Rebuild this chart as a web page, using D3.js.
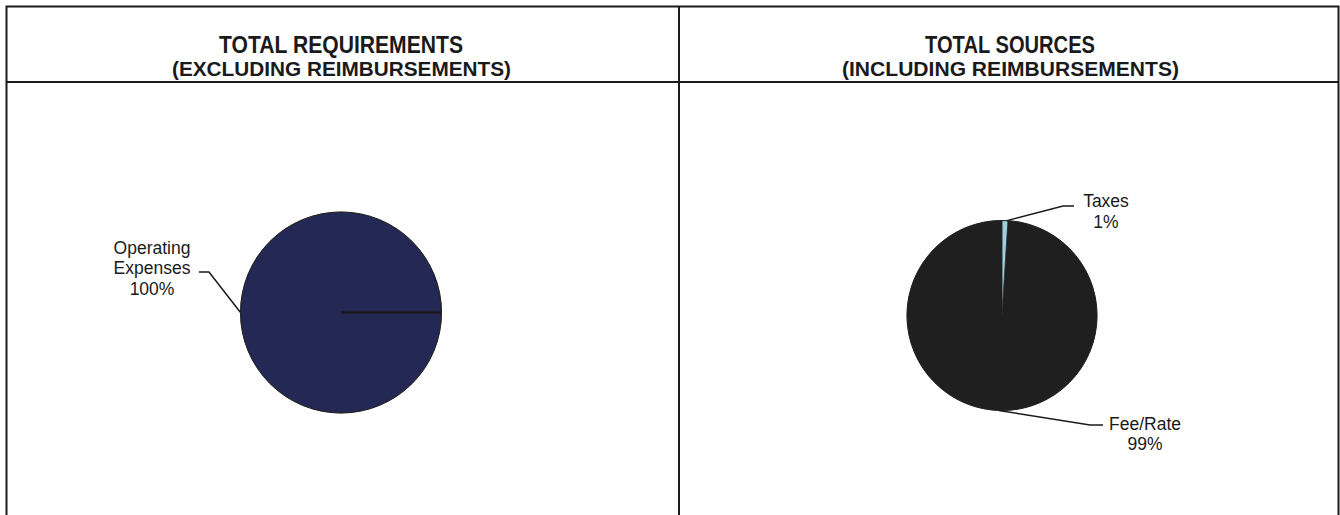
<!DOCTYPE html>
<html><head><meta charset="utf-8">
<script src="https://cdn.jsdelivr.net/npm/d3@7"></script>
<style>
body{margin:0;background:#fff}
svg{display:block}
text{font-family:"Liberation Sans",Arial,Helvetica,sans-serif;fill:#1a1a1a}
</style>
</head><body>
<svg id="chart" width="1340" height="515"></svg>
<script>
// ---- data ----
const titles = ["TOTAL REQUIREMENTS", "TOTAL SOURCES"];
const subtitles = ["(EXCLUDING REIMBURSEMENTS)", "(INCLUDING REIMBURSEMENTS)"];

const reqCategories = ["Operating Expenses"];
const reqValues = [100];
const reqPctLabels = ["100%"];

const srcCategories = ["Taxes", "Fee/Rate"];
const srcValues = [1.0, 99.0];
const srcPctLabels = ["1%", "99%"];

// ---- layout ----
const svg = d3.select("#chart");
const W = 1340, H = 515;
const frame = {x0: 6.5, x1: 1338.5, y0: 6.5, mid: 679, header: 82};
const lineColor = "#1a1a1a";

// frame lines (no bottom line in reference)
const g0 = svg.append("g").attr("stroke", lineColor).attr("stroke-width", 2).attr("fill", "none");
g0.append("path").attr("d", `M${frame.x0},${H}V${frame.y0}H${frame.x1}V${H}`);
g0.append("line").attr("x1", frame.mid).attr("x2", frame.mid).attr("y1", frame.y0).attr("y2", H);
g0.append("line").attr("x1", frame.x0).attr("x2", frame.x1).attr("y1", frame.header).attr("y2", frame.header);

const titleCenters = [341, 1010];
const titleWidths = [244, 170];
const subWidths = [339, 337];
titles.forEach((t, i) => {
  svg.append("text").attr("x", titleCenters[i]).attr("y", 53)
    .attr("text-anchor", "middle").attr("font-weight", "bold").attr("font-size", 23)
    .attr("textLength", titleWidths[i]).attr("lengthAdjust", "spacingAndGlyphs").text(t);
  svg.append("text").attr("x", titleCenters[i] + 0.5).attr("y", 75.5)
    .attr("text-anchor", "middle").attr("font-weight", "bold").attr("font-size", 20)
    .attr("textLength", subWidths[i]).attr("lengthAdjust", "spacingAndGlyphs").text(subtitles[i]);
});

function drawPie(cfg) {
  const data = cfg.categories.map((c, i) => ({cat: c, value: cfg.values[i], pct: cfg.pct[i], color: cfg.colors[i]}));
  const pie = d3.pie().value(d => d.value).sort(null)
    .startAngle(cfg.start).endAngle(cfg.start + 2 * Math.PI);
  const arcs = pie(data);
  const arc = d3.arc().innerRadius(0).outerRadius(cfg.r);
  const g = svg.append("g").attr("transform", `translate(${cfg.cx},${cfg.cy})`);
  g.selectAll("path.slice").data(arcs).join("path").attr("class", "slice")
    .attr("d", arc).attr("fill", d => d.data.color)
    .attr("stroke", "#202020").attr("stroke-width", 0.5).attr("stroke-linejoin", "round");
  // outer outline
  g.append("circle").attr("r", cfg.r).attr("fill", "none")
    .attr("stroke", "#202020").attr("stroke-width", 1);
  if (arcs.length === 1) {
    const a = arcs[0].startAngle;
    g.append("line").attr("x1", 0).attr("y1", 0)
      .attr("x2", cfg.r * Math.sin(a)).attr("y2", -cfg.r * Math.cos(a))
      .attr("stroke", "#1a1a1a").attr("stroke-width", 2.6);
  }
  // labels with leader lines
  arcs.forEach((d, i) => {
    const L = cfg.labels[i];
    const mid = (d.startAngle + d.endAngle) / 2 + (L.angOff || 0);
    const px = cfg.r * Math.sin(mid), py = -cfg.r * Math.cos(mid);
    g.append("path")
      .attr("d", `M${px},${py}L${L.ex},${L.ey}L${L.hx},${L.ey}`)
      .attr("fill", "none").attr("stroke", "#1a1a1a").attr("stroke-width", 1.5);
    const lines = d.data.cat.split(" ").concat([d.data.pct]);
    const t = g.append("text").attr("text-anchor", "middle").attr("font-size", 17.5);
    lines.forEach((ln, k) => {
      t.append("tspan").attr("x", L.tx).attr("y", L.ty + k * 20.5).text(ln);
    });
  });
}

drawPie({
  categories: reqCategories, values: reqValues, pct: reqPctLabels,
  colors: ["#242855"], cx: 341, cy: 312.5, r: 100.5, start: Math.PI / 2,
  labels: [{ex: -132, ey: -40.5, hx: -142, tx: -189, ty: -59}]
});

drawPie({
  categories: srcCategories, values: srcValues, pct: srcPctLabels,
  colors: ["#9fd0e2", "#1f1f1f"], cx: 1002, cy: 315.5, r: 95, start: 0,
  labels: [
    {ex: 61, ey: -109.5, hx: 72, tx: 104, ty: -108.5, angOff: 0.02},
    {ex: 88, ey: 109.5, hx: 101, tx: 143, ty: 114}
  ]
});
</script>
</body></html>
